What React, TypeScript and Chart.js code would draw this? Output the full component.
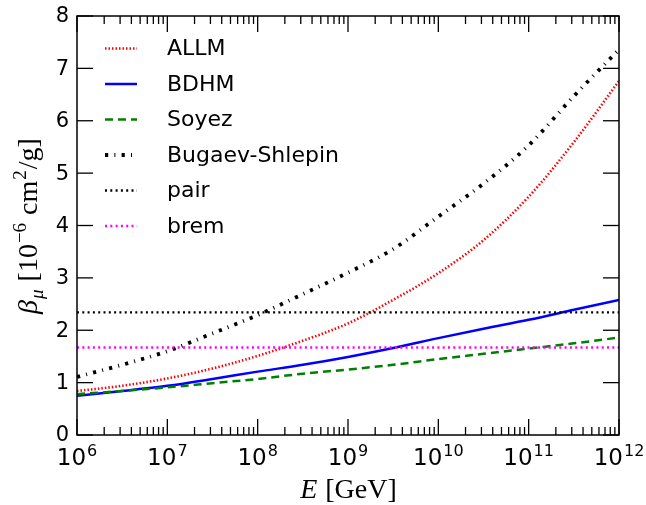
import React, { useEffect, useRef } from 'react';
import { Chart, registerables } from 'chart.js';

Chart.register(...registerables);

// ---- data ----
const energyExponents = [6, 6.5, 7, 7.5, 8, 8.5, 9, 9.5, 10, 10.5, 11, 11.5, 12];
const allmValues = [0.84, 0.94, 1.08, 1.27, 1.51, 1.80, 2.13, 2.58, 3.09, 3.72, 4.55, 5.59, 6.76];
const bdhmValues = [0.75, 0.84, 0.94, 1.07, 1.21, 1.34, 1.49, 1.66, 1.85, 2.03, 2.20, 2.39, 2.58];
const soyezValues = [0.78, 0.84, 0.91, 0.99, 1.07, 1.17, 1.25, 1.34, 1.45, 1.55, 1.65, 1.75, 1.86];
const bugaevValues = [1.11, 1.34, 1.60, 1.94, 2.29, 2.69, 3.10, 3.55, 4.17, 4.80, 5.53, 6.47, 7.36];
const pairLevel = 2.34;
const bremLevel = 1.67;
const seriesLabels = ['ALLM', 'BDHM', 'Soyez', 'Bugaev-Shlepin', 'pair', 'brem'];
const xMajorExponents = [6, 7, 8, 9, 10, 11, 12];
const xMinorMultipliers = [2, 3, 4, 5, 6, 7, 8, 9];
const yTickValues = [0, 1, 2, 3, 4, 5, 6, 7, 8];
const xMin = 1e6;
const xMax = 1e12;
const yMin = 0;
const yMax = 8;

const curve = (vals: number[]) => energyExponents.map((e, i) => ({ x: Math.pow(10, e), y: vals[i] }));
const flat = (v: number) => [{ x: xMin, y: v }, { x: xMax, y: v }];

const SANS = '"DejaVu Sans", sans-serif';
const SERIF = '"Liberation Serif", "DejaVu Serif", serif';

const decorPlugin = {
  id: 'decor',
  afterDatasetsDraw(chart: any) {
    const ctx: CanvasRenderingContext2D = chart.ctx;
    const { left, right, top, bottom } = chart.chartArea;
    const xs = chart.scales.x;
    const ys = chart.scales.y;
    const line = (x1: number, y1: number, x2: number, y2: number) => {
      ctx.beginPath();
      ctx.moveTo(x1, y1);
      ctx.lineTo(x2, y2);
      ctx.stroke();
    };
    ctx.save();
    ctx.strokeStyle = '#000';
    ctx.fillStyle = '#000';
    ctx.setLineDash([]);
    ctx.lineWidth = 1.3;
    // x ticks (inward, bottom and top)
    for (const e of xMajorExponents) {
      const px = xs.getPixelForValue(Math.pow(10, e));
      line(px, bottom, px, bottom - 16);
      line(px, top, px, top + 16);
      if (e < xMajorExponents[xMajorExponents.length - 1]) {
        for (const m of xMinorMultipliers) {
          const p = xs.getPixelForValue(m * Math.pow(10, e));
          line(p, bottom, p, bottom - 8);
          line(p, top, p, top + 8);
        }
      }
    }
    // y ticks (inward, left and right)
    for (const v of yTickValues) {
      const py = ys.getPixelForValue(v);
      line(left, py, left + 16, py);
      line(right, py, right - 16, py);
    }
    // frame
    ctx.lineWidth = 1.5;
    ctx.strokeRect(left, top, right - left, bottom - top);

    // y tick labels
    ctx.font = `21px ${SANS}`;
    ctx.textAlign = 'right';
    ctx.textBaseline = 'middle';
    for (const v of yTickValues) {
      ctx.fillText(String(v), left - 8, ys.getPixelForValue(v) + 1);
    }
    // x tick labels 10^n
    ctx.textAlign = 'left';
    ctx.textBaseline = 'alphabetic';
    for (const e of xMajorExponents) {
      const px = xs.getPixelForValue(Math.pow(10, e));
      ctx.font = `23px ${SANS}`;
      const wMain = ctx.measureText('10').width;
      ctx.font = `16px ${SANS}`;
      const wSup = ctx.measureText(String(e)).width;
      const start = px - (wMain + 1 + wSup) / 2;
      ctx.font = `23px ${SANS}`;
      ctx.fillText('10', start, bottom + 30);
      ctx.font = `16px ${SANS}`;
      ctx.fillText(String(e), start + wMain + 1, bottom + 21);
    }

    // x axis title: E [GeV]
    {
      ctx.font = `italic 28px ${SERIF}`;
      const wE = ctx.measureText('E').width;
      ctx.font = `28px ${SERIF}`;
      const rest = ' [GeV]';
      const wR = ctx.measureText(rest).width;
      const cx = (left + right) / 2;
      const start = cx - (wE + wR) / 2;
      const base = bottom + 63;
      ctx.font = `italic 28px ${SERIF}`;
      ctx.fillText('E', start, base);
      ctx.font = `28px ${SERIF}`;
      ctx.fillText(rest, start + wE + 1, base);
    }

    // y axis title: beta_mu [10^-6 cm^2/g]
    {
      const parts: { t: string; font: string; dy: number }[] = [
        { t: 'β', font: `italic 28px ${SERIF}`, dy: 0 },
        { t: 'μ', font: `italic 19px ${SERIF}`, dy: 6 },
        { t: ' [10', font: `28px ${SERIF}`, dy: 0 },
        { t: '−6', font: `19px ${SERIF}`, dy: -11 },
        { t: ' cm', font: `28px ${SERIF}`, dy: 0 },
        { t: '2', font: `19px ${SERIF}`, dy: -11 },
        { t: '/g]', font: `28px ${SERIF}`, dy: 0 },
      ];
      let total = 0;
      const widths = parts.map((p) => {
        ctx.font = p.font;
        const w = ctx.measureText(p.t).width;
        total += w + 1;
        return w;
      });
      ctx.save();
      ctx.translate(37, (top + bottom) / 2);
      ctx.rotate(-Math.PI / 2);
      let x = -total / 2;
      parts.forEach((p, i) => {
        ctx.font = p.font;
        ctx.fillText(p.t, x, p.dy);
        x += widths[i] + 1;
      });
      ctx.restore();
    }

    // legend
    const datasets = chart.data.datasets;
    const rowStart = 48.5;
    const rowStep = 35.5;
    datasets.forEach((ds: any, i: number) => {
      const y = rowStart + i * rowStep;
      ctx.save();
      ctx.strokeStyle = ds.borderColor;
      ctx.lineWidth = ds.borderWidth;
      ctx.setLineDash(ds.borderDash || []);
      line(105, y, 137, y);
      ctx.restore();
      ctx.font = `22px ${SANS}`;
      ctx.textBaseline = 'middle';
      ctx.textAlign = 'left';
      ctx.fillStyle = '#000';
      ctx.fillText(ds.label, 167, y + 1);
    });
    ctx.restore();
  },
};

export default function App() {
  const canvasRef = useRef<HTMLCanvasElement | null>(null);

  useEffect(() => {
    document.body.style.margin = '0';
    const canvas = canvasRef.current;
    if (!canvas) return;
    const chart = new Chart(canvas, {
      type: 'line',
      data: {
        datasets: [
          {
            label: seriesLabels[0],
            data: curve(allmValues),
            borderColor: '#ff0000',
            borderWidth: 2.6,
            borderDash: [1.5, 2],
            order: 6,
          },
          {
            label: seriesLabels[1],
            data: curve(bdhmValues),
            borderColor: '#0000ff',
            borderWidth: 2.5,
            borderDash: [],
            order: 5,
          },
          {
            label: seriesLabels[2],
            data: curve(soyezValues),
            borderColor: '#008000',
            borderWidth: 2.5,
            borderDash: [8, 5],
            order: 4,
          },
          {
            label: seriesLabels[3],
            data: curve(bugaevValues),
            borderColor: '#000000',
            borderWidth: 3.8,
            borderDash: [3.2, 6.2, 1, 6.2],
            order: 3,
          },
          {
            label: seriesLabels[4],
            data: flat(pairLevel),
            borderColor: '#000000',
            borderWidth: 2.3,
            borderDash: [2, 3.3],
            order: 2,
          },
          {
            label: seriesLabels[5],
            data: flat(bremLevel),
            borderColor: '#ff00ff',
            borderWidth: 2.6,
            borderDash: [2, 3.3],
            order: 1,
          },
        ] as any,
      },
      options: {
        animation: false,
        responsive: false,
        devicePixelRatio: 1,
        layout: { padding: { left: 77, right: 27, top: 16, bottom: 70 } },
        elements: {
          point: { radius: 0 },
          line: { cubicInterpolationMode: 'monotone', fill: false },
        },
        scales: {
          x: { type: 'logarithmic', min: xMin, max: xMax, display: false },
          y: { type: 'linear', min: yMin, max: yMax, display: false },
        },
        plugins: {
          legend: { display: false },
          tooltip: { enabled: false },
        },
      } as any,
      plugins: [decorPlugin],
    });
    return () => chart.destroy();
  }, []);

  return (
    <div style={{ position: 'absolute', left: 0, top: 0, width: 646, height: 505, background: '#fff' }}>
      <canvas ref={canvasRef} width={646} height={505} style={{ display: 'block' }} />
    </div>
  );
}
